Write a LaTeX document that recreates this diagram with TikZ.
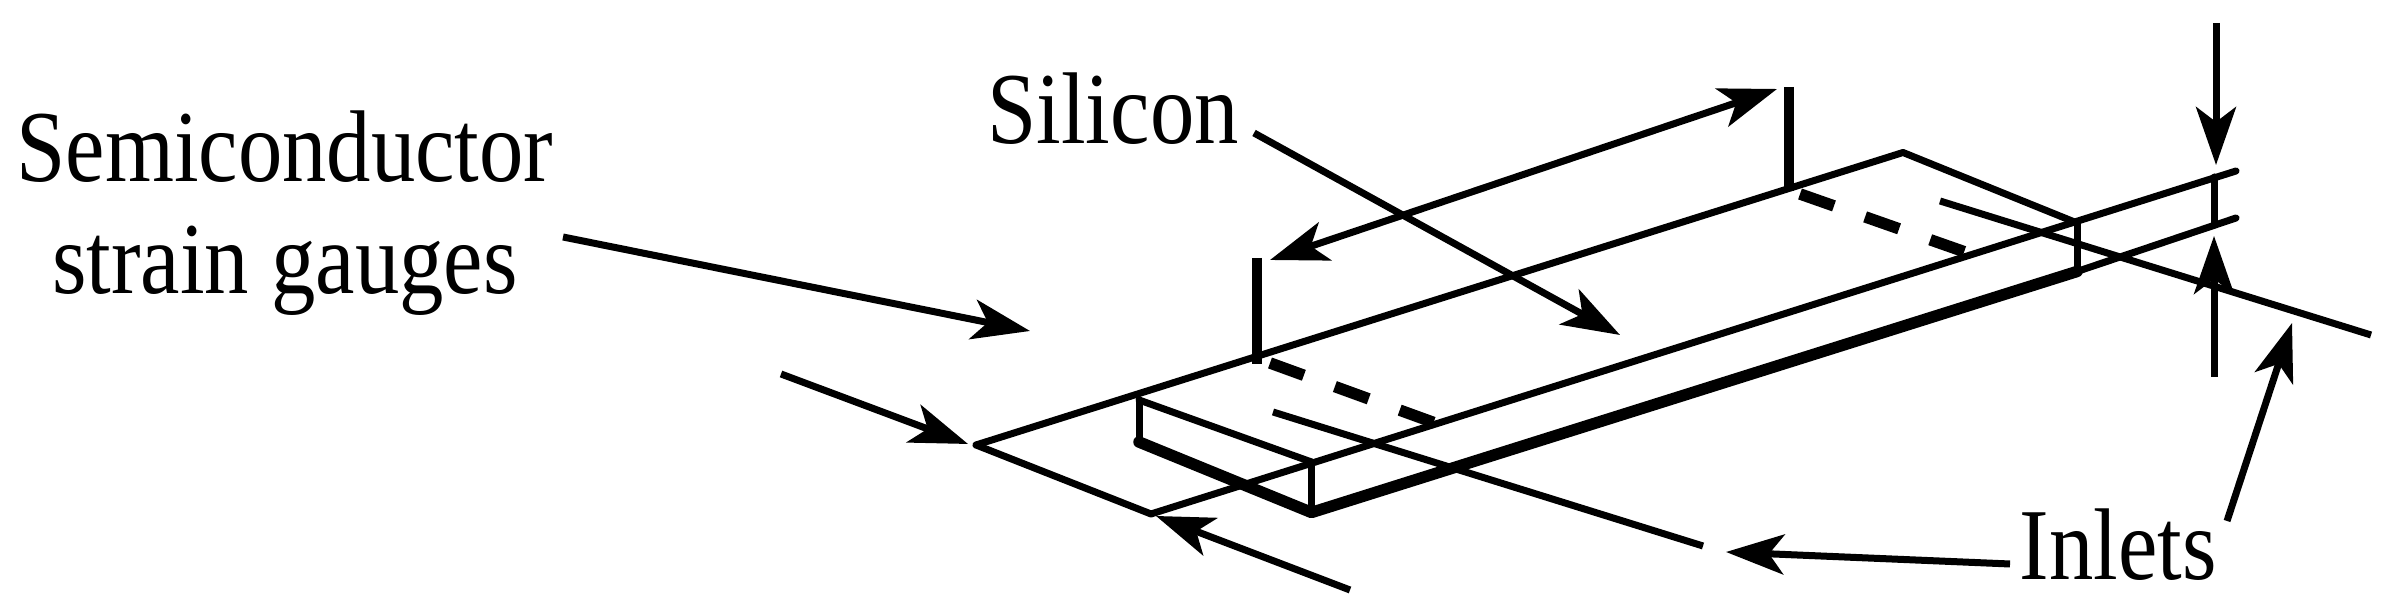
\documentclass[tikz,border=0pt]{standalone}
\usepackage{fontspec}
\setmainfont{Liberation Serif}
\newfontfamily\labelfont[FakeStretch=0.87]{Liberation Serif}
\usetikzlibrary{arrows.meta}
\tikzset{
	edgeline/.style={line width=0.07cm, line cap=round, line join=round},
	baseline thick/.style={line width=0.115cm, line cap=round, line join=round},
	guideline/.style={line width=0.07cm},
	heavyline/.style={line width=0.1cm},
	dashline/.style={line width=0.115cm, dash pattern=on 0.36cm off 0.33cm},
	leader/.style={line width=0.07cm, -{Stealth[length=0.58cm, width=0.4cm, inset=0.15cm]}},
	bothleader/.style={line width=0.07cm, {Stealth[length=0.58cm, width=0.4cm, inset=0.15cm]}-{Stealth[length=0.58cm, width=0.4cm, inset=0.15cm]}},
	labeltext/.style={font=\labelfont\fontsize{29}{32}\selectfont, inner sep=0pt}
}

\begin{document}
\begin{tikzpicture}
	%%%%% START %%%%%
	\useasboundingbox (0, 0) rectangle (23.91, 6.07);
	
	% labels
	\node[labeltext, align=center] (semilabel) at (2.85, 3.94) {Semiconductor\\strain gauges};
	\node[labeltext] (siliconlabel) at (11.13, 4.98) {Silicon};
	\node[labeltext] (inletslabel) at (21.18, 0.62) {Inlets};
	
	% plate
	\draw[edgeline] (9.76, 1.62) -- (19.03, 4.545) -- (20.77, 3.84);
	\draw[edgeline] (9.76, 1.62) -- (11.51, 0.93) -- (22.36, 4.36);
	\draw[edgeline] (11.39, 2.07) -- (13.115, 1.45);
	\draw[edgeline] (20.77, 3.355) -- (22.36, 3.89);
	
	% silicon block
	\draw[edgeline] (11.39, 2.07) -- (11.39, 1.65);
	\draw[baseline thick] (11.39, 1.65) -- (13.115, 0.945) -- (20.77, 3.355);
	\draw[edgeline] (13.115, 1.45) -- (13.115, 0.945);
	\draw[edgeline] (20.77, 3.84) -- (20.77, 3.355);
	\draw[edgeline] (22.14, 4.30) -- (22.14, 3.83);
	
	% length marks
	\draw[heavyline] (12.57, 3.49) -- (12.57, 2.43);
	\draw[heavyline] (17.89, 5.2) -- (17.89, 4.16);
	\draw[dashline] (12.7, 2.44) -- (14.35, 1.84);
	\draw[dashline] (18.0, 4.13) -- (19.65, 3.55);
	
	% inlet lines
	\draw[guideline] (12.73, 1.95) -- (17.03, 0.61);
	\draw[guideline] (19.4, 4.06) -- (23.71, 2.72);
	
	% leaders
	\coordinate (semitail) at (5.63, 3.7);
	\coordinate (semitip) at (10.3, 2.76);
	\coordinate (silicontail) at (12.54, 4.74);
	\coordinate (silicontip) at (16.2, 2.72);
	\coordinate (inleta) at (20.1, 0.43);
	\coordinate (inletaTip) at (17.26, 0.55);
	\coordinate (inletb) at (22.27, 0.86);
	\coordinate (inletbTip) at (22.92, 2.84);
	\coordinate (leftlen) at (12.7, 3.47);
	\coordinate (rightlen) at (17.77, 5.18);
	\coordinate (widtha) at (7.81, 2.33);
	\coordinate (widthaTip) at (9.68, 1.63);
	\coordinate (widthb) at (13.5, 0.17);
	\coordinate (widthbTip) at (11.56, 0.91);
	\coordinate (thicka) at (22.16, 5.84);
	\coordinate (thickaTip) at (22.16, 4.42);
	\coordinate (thickb) at (22.14, 2.3);
	\coordinate (thickbTip) at (22.14, 3.71);
	
	\draw[leader] (semitail) -- (semitip);
	\draw[leader] (silicontail) -- (silicontip);
	\draw[leader] (inleta) -- (inletaTip);
	\draw[leader] (inletb) -- (inletbTip);
	\draw[bothleader] (leftlen) -- (rightlen);
	\draw[leader] (widtha) -- (widthaTip);
	\draw[leader] (widthb) -- (widthbTip);
	\draw[leader] (thicka) -- (thickaTip);
	\draw[leader] (thickb) -- (thickbTip);
	%%%%% END %%%%%
\end{tikzpicture}
\end{document}
